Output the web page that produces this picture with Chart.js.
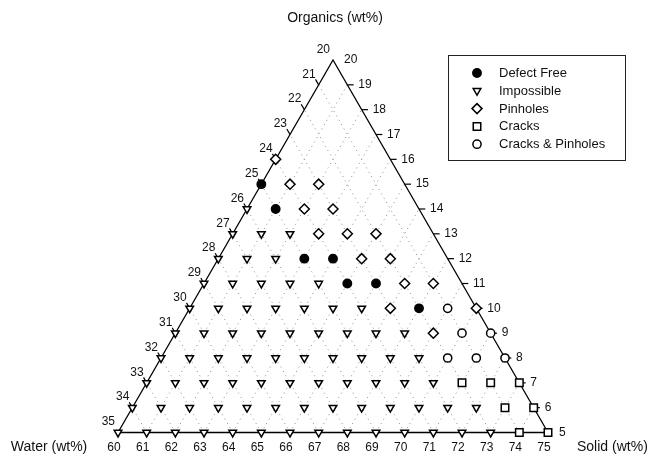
<!DOCTYPE html>
<html>
<head>
<meta charset="utf-8">
<script src="https://cdn.jsdelivr.net/npm/chart.js@4.4.1/dist/chart.umd.min.js"></script>
<style>
  html, body { margin: 0; padding: 0; background: #fff; }
  #wrap { width: 652px; height: 459px; position: relative; }
</style>
</head>
<body>
<div id="wrap"><canvas id="c" width="652" height="459"></canvas></div>
<script>
// Ternary composition diagram: Solid + Water + Organics = 100 wt%.
// Every sample is stored as [solid, organics]; water is the remainder.

const solidTicks = [60, 61, 62, 63, 64, 65, 66, 67, 68, 69, 70, 71, 72, 73, 74, 75];
const organicsTicks = [5, 6, 7, 8, 9, 10, 11, 12, 13, 14, 15, 16, 17, 18, 19, 20];
const waterTicks = [20, 21, 22, 23, 24, 25, 26, 27, 28, 29, 30, 31, 32, 33, 34, 35];

const defectFree = [[60, 15], [61, 14], [63, 12], [64, 12], [65, 11], [66, 11], [68, 10]];

const impossible = [
  [60, 5], [61, 5], [62, 5], [63, 5], [64, 5], [65, 5], [66, 5], [67, 5], [68, 5], [69, 5], [70, 5], [71, 5], [72, 5], [73, 5],
  [60, 6], [61, 6], [62, 6], [63, 6], [64, 6], [65, 6], [66, 6], [67, 6], [68, 6], [69, 6], [70, 6], [71, 6], [72, 6],
  [60, 7], [61, 7], [62, 7], [63, 7], [64, 7], [65, 7], [66, 7], [67, 7], [68, 7], [69, 7], [70, 7],
  [60, 8], [61, 8], [62, 8], [63, 8], [64, 8], [65, 8], [66, 8], [67, 8], [68, 8], [69, 8],
  [60, 9], [61, 9], [62, 9], [63, 9], [64, 9], [65, 9], [66, 9], [67, 9], [68, 9],
  [60, 10], [61, 10], [62, 10], [63, 10], [64, 10], [65, 10], [66, 10],
  [60, 11], [61, 11], [62, 11], [63, 11], [64, 11],
  [60, 12], [61, 12], [62, 12],
  [60, 13], [61, 13], [62, 13],
  [60, 14]
];

const pinholes = [
  [60, 16], [61, 15], [62, 15], [62, 14], [63, 14], [63, 13], [64, 13], [65, 13],
  [65, 12], [66, 12], [67, 11], [68, 11], [67, 10], [70, 10], [69, 9]
];

const cracks = [[74, 5], [75, 5], [73, 6], [74, 6], [71, 7], [72, 7], [73, 7]];

const cracksPinholes = [[69, 10], [70, 9], [71, 9], [70, 8], [71, 8], [72, 8]];

const axisTitles = { organics: 'Organics (wt%)', water: 'Water (wt%)', solid: 'Solid (wt%)' };

// ---- ternary -> cartesian (data units, one wt% = one unit along an edge) ----
const S_MIN = 60, O_MIN = 5, TOTAL = 100;
const H = Math.sqrt(3) / 2;
function toXY(solid, organics) {
  return { x: (solid - S_MIN) + (organics - O_MIN) / 2, y: (organics - O_MIN) * H };
}
const SPAN = 15;
const O_MAX = organicsTicks[organicsTicks.length - 1];
const W_MIN = waterTicks[0];

const FONT = '"Liberation Sans", Arial, Helvetica, sans-serif';
const datasets = [];

function seg(a, b, opts) {
  datasets.push(Object.assign({
    type: 'scatter', data: [a, b], showLine: true, pointRadius: 0,
    borderColor: '#000', borderWidth: 1, fill: false, clip: false, order: 5
  }, opts));
}

// dotted grid: constant solid lines and constant water lines
solidTicks.slice(1, -1).forEach(s => {
  seg(toXY(s, O_MIN), toXY(s, TOTAL - W_MIN - s),
      { borderColor: '#8c8c8c', borderWidth: 1, borderDash: [1, 4], order: 20 });
});
waterTicks.slice(1, -1).forEach(w => {
  seg(toXY(TOTAL - O_MIN - w, O_MIN), toXY(S_MIN, TOTAL - S_MIN - w),
      { borderColor: '#8c8c8c', borderWidth: 1, borderDash: [1, 4], order: 20 });
});

// triangle outline
datasets.push({
  type: 'scatter', showLine: true, pointRadius: 0, borderColor: '#000', borderWidth: 1.3,
  clip: false, order: 10,
  data: [toXY(S_MIN, O_MIN), toXY(S_MIN + SPAN, O_MIN), toXY(S_MIN, O_MAX), toXY(S_MIN, O_MIN)]
});

// edge tick marks
const TICK = 0.22;
organicsTicks.slice(1, -1).forEach(o => {
  const p = toXY(TOTAL - W_MIN - o, o);
  seg(p, { x: p.x + TICK, y: p.y }, { order: 10, borderWidth: 1.2 });
});
waterTicks.slice(1, -1).forEach(w => {
  const p = toXY(S_MIN, TOTAL - S_MIN - w);
  seg(p, { x: p.x - TICK * 0.5, y: p.y + TICK * H }, { order: 10, borderWidth: 1.2 });
});

// sample markers
function series(label, pts, style) {
  return Object.assign({
    type: 'scatter', label, clip: false, order: 1,
    data: pts.map(p => toXY(p[0], p[1])),
    borderColor: '#000', borderWidth: 1.5, backgroundColor: '#fff'
  }, style);
}
const markerSets = [
  series('Defect Free', defectFree, { pointStyle: 'circle', pointRadius: 4.2, backgroundColor: '#000' }),
  series('Impossible', impossible, { pointStyle: 'triangle', pointRadius: 4.4, rotation: 180 }),
  series('Pinholes', pinholes, { pointStyle: 'rectRot', pointRadius: 5 }),
  series('Cracks', cracks, { pointStyle: 'rect', pointRadius: 5.3 }),
  series('Cracks & Pinholes', cracksPinholes, { pointStyle: 'circle', pointRadius: 4.1 })
];
markerSets.forEach(d => datasets.push(d));

function fallbackPoint(ctx, o, x, y) {
  const r = o.radius;
  ctx.beginPath();
  if (o.pointStyle === 'triangle') {
    ctx.moveTo(x - r * H, y - r / 2); ctx.lineTo(x + r * H, y - r / 2); ctx.lineTo(x, y + r);
  } else if (o.pointStyle === 'rectRot') {
    ctx.moveTo(x, y - r); ctx.lineTo(x + r, y); ctx.lineTo(x, y + r); ctx.lineTo(x - r, y);
  } else if (o.pointStyle === 'rect') {
    const a = r * Math.SQRT1_2; ctx.rect(x - a, y - a, 2 * a, 2 * a);
  } else {
    ctx.arc(x, y, r, 0, Math.PI * 2);
  }
  ctx.closePath(); ctx.fill(); ctx.stroke();
}

// labels and legend drawn against the chart's own scales
const annotate = {
  id: 'ternaryText',
  afterDraw(chart) {
    const { ctx } = chart;
    const sx = chart.scales.x, sy = chart.scales.y;
    const px = p => ({ x: sx.getPixelForValue(p.x), y: sy.getPixelForValue(p.y) });
    ctx.save();
    ctx.fillStyle = '#111';
    ctx.font = '12px ' + FONT;

    ctx.textAlign = 'left'; ctx.textBaseline = 'middle';
    organicsTicks.forEach(o => {
      const p = px(toXY(TOTAL - W_MIN - o, o));
      ctx.fillText(String(o), p.x + 11, p.y);
    });
    ctx.textAlign = 'right';
    waterTicks.forEach(w => {
      const p = px(toXY(S_MIN, TOTAL - S_MIN - w));
      ctx.fillText(String(w), p.x - 3, p.y - 10.5);
    });
    ctx.textAlign = 'center';
    solidTicks.forEach(s => {
      const p = px(toXY(s, O_MIN));
      ctx.fillText(String(s), p.x - 4, p.y + 15);
    });

    ctx.font = '14px ' + FONT;
    const top = px(toXY(S_MIN, O_MAX));
    const bl = px(toXY(S_MIN, O_MIN));
    ctx.textAlign = 'center';
    ctx.fillText(axisTitles.organics, top.x + 2, 18);
    ctx.fillText(axisTitles.water, 49, bl.y + 15);
    ctx.textAlign = 'left';
    ctx.fillText(axisTitles.solid, 577, bl.y + 15);

    // legend box
    const bx = 448.5, by = 55.5, bw = 177, bh = 105;
    ctx.strokeStyle = '#222'; ctx.lineWidth = 1;
    ctx.strokeRect(bx, by, bw, bh);
    ctx.font = '13px ' + FONT;
    ctx.textAlign = 'left'; ctx.textBaseline = 'middle';
    markerSets.forEach((d, i) => {
      const y = 73 + i * 17.8;
      const o = { pointStyle: d.pointStyle, radius: d.pointRadius, rotation: d.rotation || 0, borderWidth: d.borderWidth };
      ctx.fillStyle = d.backgroundColor; ctx.strokeStyle = d.borderColor; ctx.lineWidth = d.borderWidth;
      if (Chart.helpers && Chart.helpers.drawPoint) Chart.helpers.drawPoint(ctx, o, 477, y);
      else fallbackPoint(ctx, o, 477, y);
      ctx.fillStyle = '#111';
      ctx.fillText(d.label, 499, y + 0.5);
    });
    ctx.restore();
  }
};

new Chart(document.getElementById('c'), {
  type: 'scatter',
  data: { datasets },
  options: {
    responsive: false,
    animation: false,
    layout: { padding: { left: 118, right: 104, top: 60, bottom: 26.5 } },
    scales: {
      x: { type: 'linear', min: 0, max: SPAN, display: false },
      y: { type: 'linear', min: 0, max: SPAN * H, display: false }
    },
    plugins: { legend: { display: false }, tooltip: { enabled: false } },
    elements: { line: { tension: 0 } }
  },
  plugins: [annotate]
});
</script>
</body>
</html>
